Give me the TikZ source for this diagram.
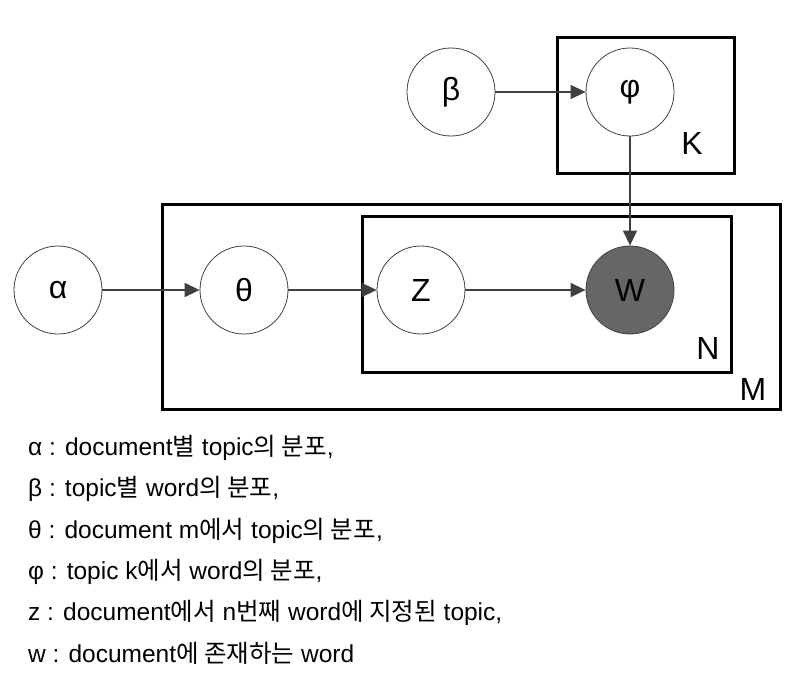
\documentclass[tikz,border=0pt]{standalone}
\usepackage{fontspec}
\setmainfont{Liberation Sans}
\newfontfamily\kr{Noto Sans CJK KR}
\newcommand{\ko}[1]{{\kr #1}}
\usetikzlibrary{positioning, shapes, arrows.meta}
\definecolor{edgegray}{HTML}{404040}
\definecolor{obsgray}{HTML}{666666}

\begin{document}
\begin{tikzpicture}[x=1pt, y=-1pt,
        var/.style={circle, draw=edgegray, line width=0.8pt, fill=white, minimum size=88pt, inner sep=0pt, font=\fontsize{32}{32}\selectfont},
        obs/.style={var, fill=obsgray},
        plate/.style={draw=black, line width=3pt},
        platelabel/.style={inner sep=0pt, font=\fontsize{32}{32}\selectfont},
        edge/.style={draw=edgegray, line width=1.4pt, -{Triangle[length=15pt, width=14pt]}},
        note/.style={anchor=base west, inner sep=0pt, font=\fontsize{24.5}{24.5}\selectfont}]

        \useasboundingbox (0,0) rectangle (799,677);

        % plates
        \draw[plate] (557,38) rectangle (734,173);
        \draw[plate] (162,204) rectangle (780,409);
        \draw[plate] (362,216) rectangle (731,372);
        \node[platelabel] (K) at (692,143) {K};
        \node[platelabel] (N) at (708,348) {N};
        \node[platelabel] (M) at (753,389) {M};

        % variables
        \node[var] (beta) at (451,92) {β};
        \node[var] (phi) at (630,92) {φ};
        \node[var] (alpha) at (58,290) {α};
        \node[var] (theta) at (244,290) {θ};
        \node[var] (z) at (421,290) {Z};
        \node[obs] (w) at (630,290) {W};

        \draw[edge] (alpha) -- (theta);
        \draw[edge] (theta) -- (z);
        \draw[edge] (z) -- (w);
        \draw[edge] (beta) -- (phi);
        \draw[edge] (phi) -- (w);

        % legend
        \node[note] (l1) at (28,455) {α : document\ko{별} topic\ko{의 분포},};
        \node[note] (l2) at (28,496) {β : topic\ko{별} word\ko{의 분포},};
        \node[note] (l3) at (28,538) {θ : document m\ko{에서} topic\ko{의 분포},};
        \node[note] (l4) at (28,579) {φ : topic k\ko{에서} word\ko{의 분포},};
        \node[note] (l5) at (28,620) {z : document\ko{에서} n\ko{번째} word\ko{에 지정된} topic,};
        \node[note] (l6) at (28,662) {w : document\ko{에 존재하는} word};
    \end{tikzpicture}
\end{document}
